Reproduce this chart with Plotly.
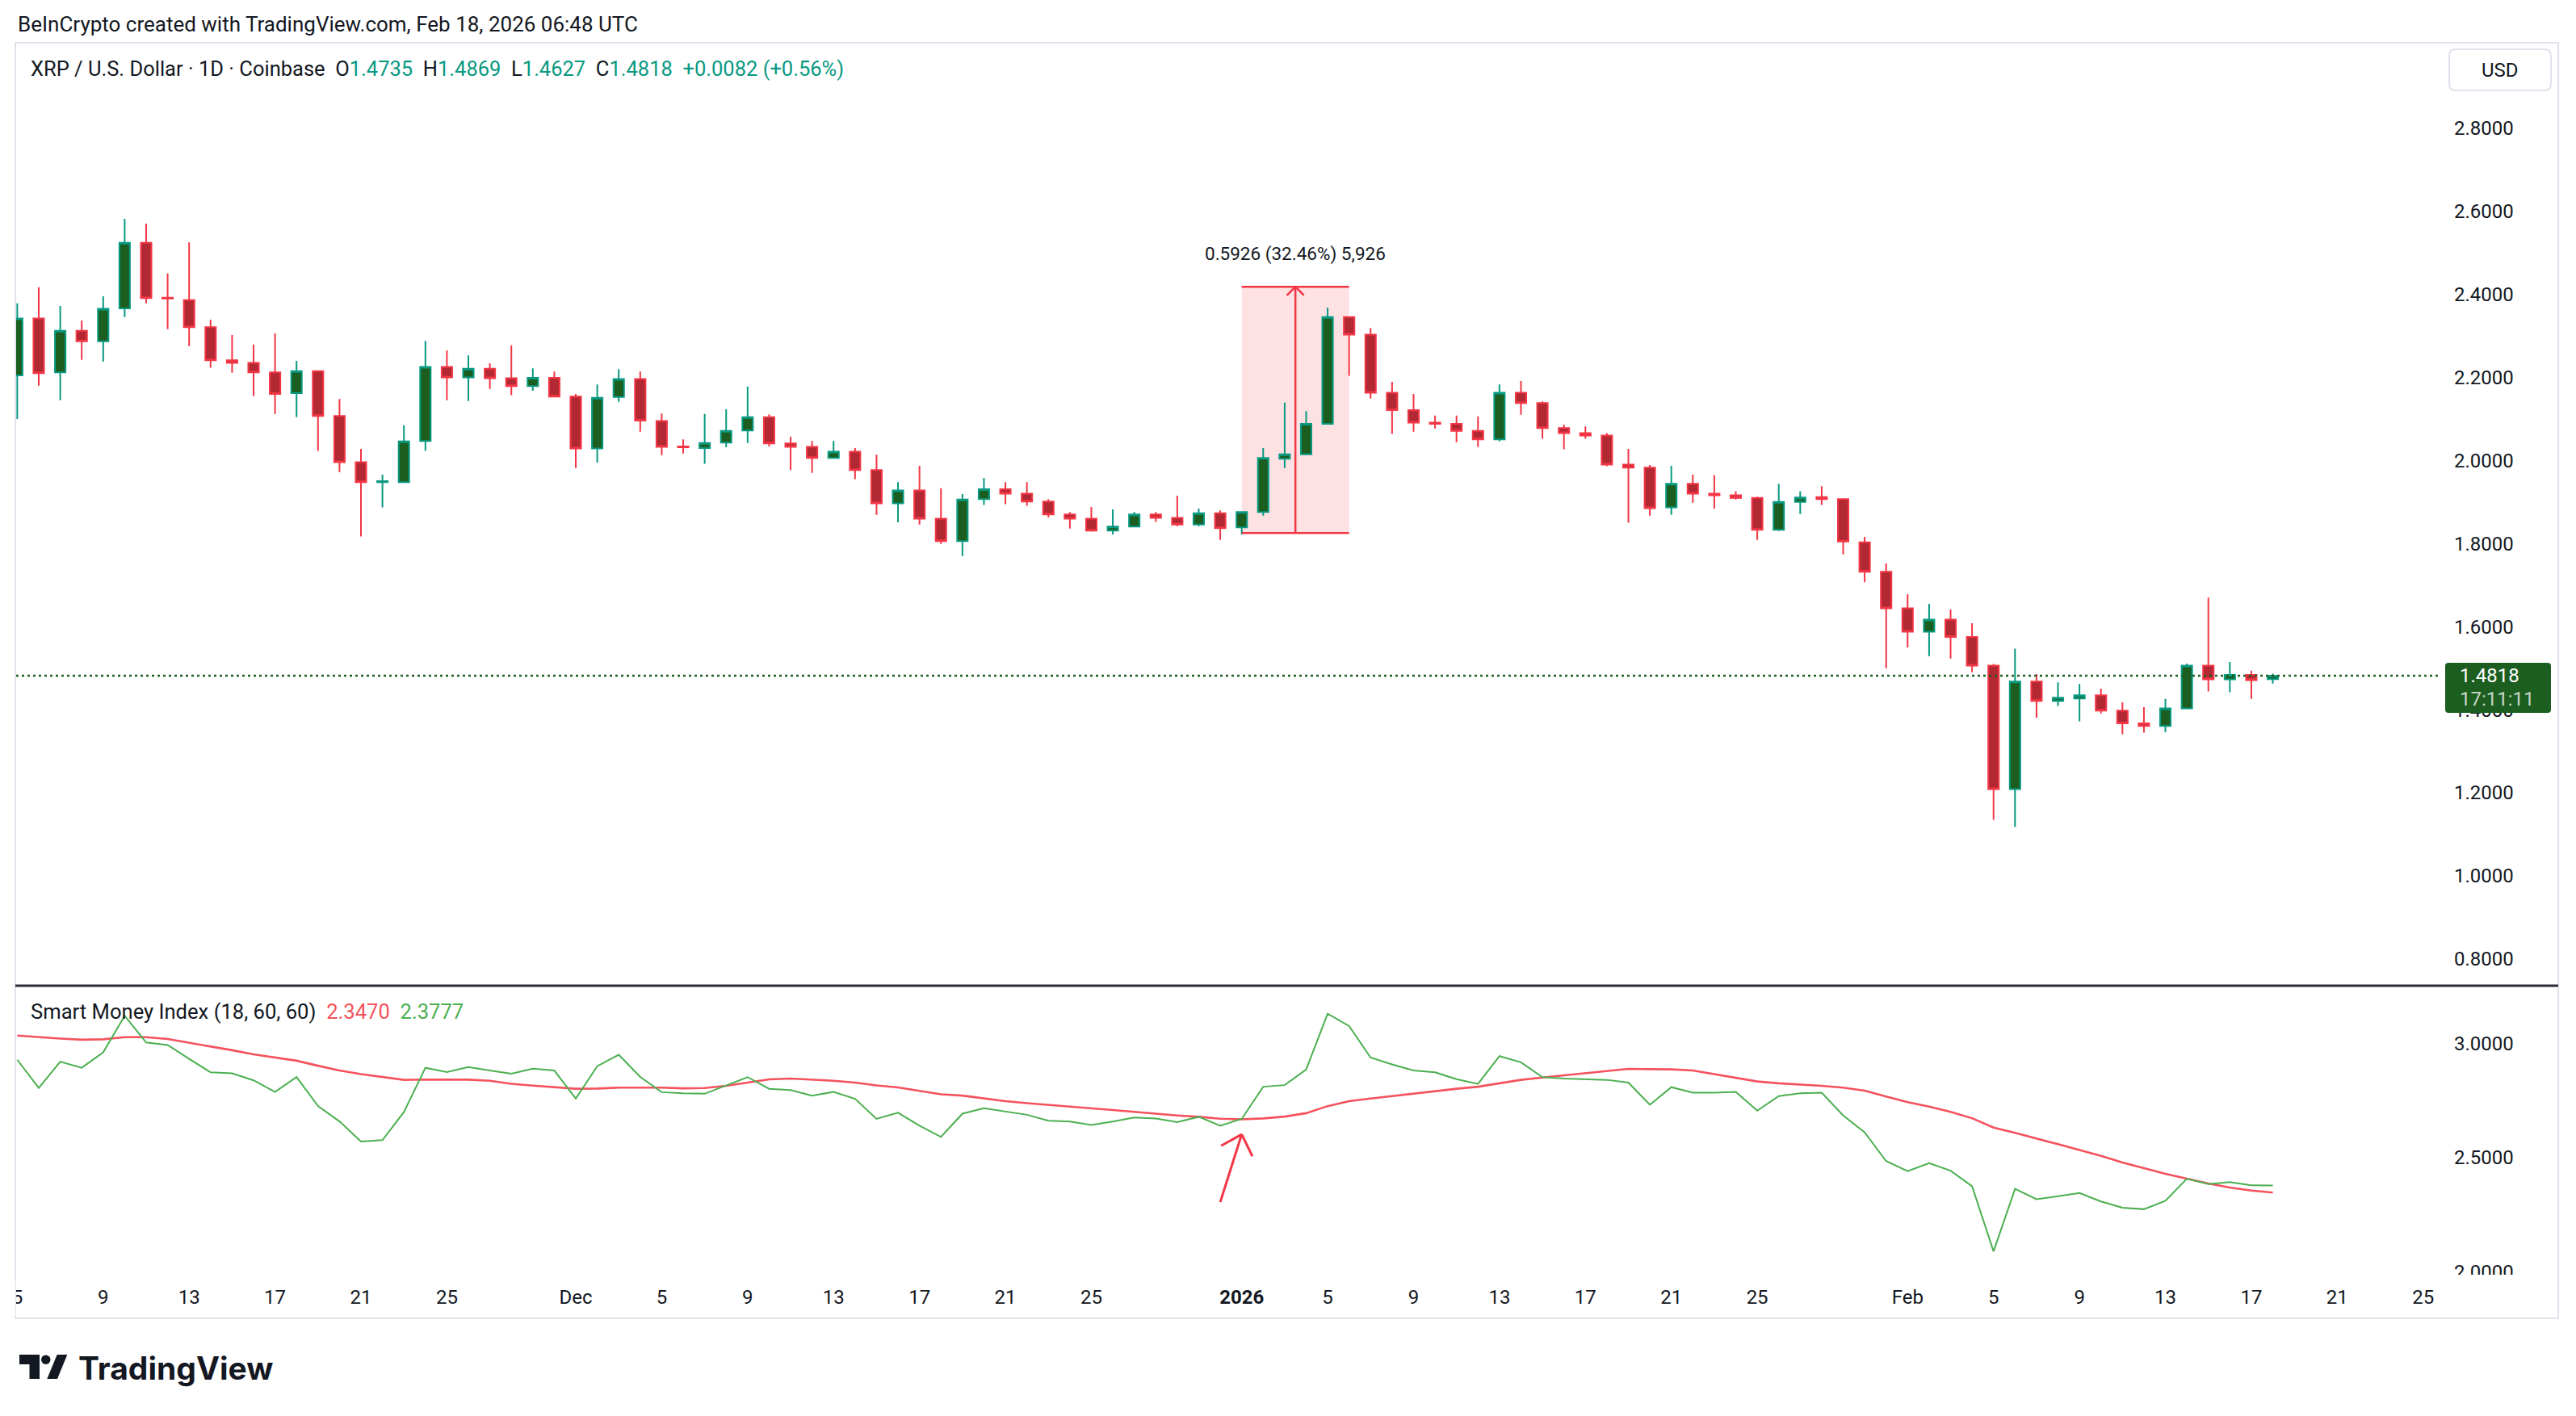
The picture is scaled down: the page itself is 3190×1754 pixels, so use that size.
import plotly.graph_objects as go
import pandas as pd

# ---------------- data ----------------
start_date = "2025-11-05"

opens = [2.205, 2.342, 2.212, 2.312, 2.287, 2.366, 2.524, 2.392, 2.386, 2.321,
         2.241, 2.235, 2.212, 2.162, 2.215, 2.107, 1.996, 1.948, 1.948, 2.047,
         2.225, 2.200, 2.221, 2.198, 2.179, 2.199, 2.154, 2.029, 2.153, 2.196,
         2.095, 2.034, 2.030, 2.043, 2.072, 2.104, 2.041, 2.033, 2.006, 2.021,
         1.977, 1.897, 1.928, 1.860, 1.806, 1.907, 1.931, 1.920, 1.901, 1.870,
         1.860, 1.831, 1.841, 1.870, 1.862, 1.846, 1.873, 1.839, 1.876, 2.004,
         2.015, 2.088, 2.345, 2.303, 2.163, 2.121, 2.091, 2.088, 2.071, 2.051,
         2.163, 2.138, 2.078, 2.066, 2.060, 1.990, 1.983, 1.887, 1.944, 1.920,
         1.916, 1.910, 1.833, 1.900, 1.912, 1.907, 1.803, 1.732, 1.644, 1.588,
         1.617, 1.575, 1.506, 1.209, 1.468, 1.421, 1.427, 1.435, 1.398, 1.367,
         1.361, 1.403, 1.506, 1.473, 1.484, 1.4735]
highs = [2.378, 2.417, 2.372, 2.337, 2.395, 2.582, 2.570, 2.450, 2.525, 2.339,
         2.302, 2.279, 2.306, 2.240, 2.217, 2.148, 2.028, 1.966, 2.085, 2.288,
         2.265, 2.253, 2.234, 2.277, 2.222, 2.214, 2.160, 2.183, 2.220, 2.214,
         2.113, 2.051, 2.112, 2.123, 2.178, 2.111, 2.057, 2.047, 2.047, 2.030,
         2.014, 1.948, 1.987, 1.933, 1.919, 1.958, 1.948, 1.948, 1.907, 1.876,
         1.888, 1.882, 1.876, 1.876, 1.915, 1.884, 1.880, 1.878, 2.030, 2.139,
         2.119, 2.368, 2.347, 2.319, 2.189, 2.160, 2.108, 2.108, 2.106, 2.183,
         2.191, 2.142, 2.086, 2.082, 2.066, 2.028, 1.989, 1.987, 1.966, 1.965,
         1.926, 1.913, 1.944, 1.926, 1.938, 1.908, 1.816, 1.752, 1.678, 1.655,
         1.641, 1.608, 1.510, 1.547, 1.486, 1.466, 1.462, 1.451, 1.418, 1.406,
         1.426, 1.511, 1.670, 1.515, 1.494, 1.4869]
lows = [2.100, 2.180, 2.145, 2.242, 2.238, 2.345, 2.378, 2.316, 2.275, 2.223,
        2.211, 2.155, 2.112, 2.104, 2.023, 1.972, 1.817, 1.887, 1.946, 2.023,
        2.145, 2.143, 2.172, 2.157, 2.168, 2.153, 1.982, 1.995, 2.141, 2.069,
        2.013, 2.017, 1.992, 2.032, 2.042, 2.034, 1.977, 1.970, 2.006, 1.955,
        1.869, 1.851, 1.846, 1.799, 1.770, 1.893, 1.895, 1.891, 1.863, 1.836,
        1.829, 1.822, 1.841, 1.852, 1.842, 1.842, 1.809, 1.822, 1.867, 1.982,
        2.014, 2.087, 2.204, 2.149, 2.064, 2.069, 2.077, 2.044, 2.033, 2.046,
        2.110, 2.052, 2.027, 2.052, 1.986, 1.850, 1.867, 1.869, 1.898, 1.884,
        1.906, 1.809, 1.830, 1.871, 1.893, 1.774, 1.707, 1.500, 1.550, 1.529,
        1.523, 1.490, 1.135, 1.118, 1.381, 1.409, 1.372, 1.391, 1.341, 1.345,
        1.346, 1.403, 1.444, 1.442, 1.426, 1.4627]
closes = [2.342, 2.210, 2.312, 2.287, 2.365, 2.524, 2.391, 2.390, 2.321, 2.241,
          2.235, 2.212, 2.160, 2.215, 2.107, 1.996, 1.948, 1.950, 2.046, 2.225,
          2.200, 2.221, 2.198, 2.179, 2.199, 2.154, 2.029, 2.151, 2.196, 2.096,
          2.033, 2.032, 2.042, 2.071, 2.104, 2.041, 2.033, 2.006, 2.021, 1.977,
          1.897, 1.928, 1.860, 1.806, 1.906, 1.931, 1.920, 1.901, 1.870, 1.860,
          1.831, 1.841, 1.870, 1.862, 1.846, 1.873, 1.837, 1.876, 2.006, 2.015,
          2.088, 2.345, 2.303, 2.163, 2.121, 2.091, 2.088, 2.071, 2.051, 2.163,
          2.138, 2.078, 2.066, 2.060, 1.990, 1.983, 1.885, 1.944, 1.920, 1.916,
          1.910, 1.833, 1.900, 1.911, 1.907, 1.805, 1.732, 1.644, 1.588, 1.617,
          1.575, 1.506, 1.209, 1.468, 1.421, 1.429, 1.435, 1.398, 1.367, 1.361,
          1.403, 1.506, 1.473, 1.484, 1.471, 1.4818]

# Smart Money Index (green) and its signal (red)
smi_index = [2.929, 2.806, 2.921, 2.894, 2.962, 3.122, 3.005, 2.994, 2.933, 2.874,
             2.870, 2.839, 2.788, 2.853, 2.726, 2.659, 2.571, 2.577, 2.700, 2.894,
             2.875, 2.897, 2.882, 2.868, 2.890, 2.882, 2.759, 2.901, 2.951, 2.854,
             2.787, 2.782, 2.780, 2.817, 2.853, 2.802, 2.796, 2.772, 2.788, 2.758,
             2.670, 2.697, 2.640, 2.591, 2.693, 2.717, 2.703, 2.688, 2.662, 2.658,
             2.643, 2.658, 2.676, 2.672, 2.656, 2.679, 2.640, 2.670, 2.811, 2.818,
             2.886, 3.131, 3.077, 2.939, 2.909, 2.882, 2.874, 2.844, 2.823, 2.945,
             2.918, 2.853, 2.847, 2.844, 2.841, 2.829, 2.732, 2.809, 2.785, 2.785,
             2.788, 2.706, 2.770, 2.782, 2.785, 2.685, 2.611, 2.485, 2.441, 2.476,
             2.443, 2.375, 2.089, 2.363, 2.318, 2.331, 2.345, 2.308, 2.281, 2.274,
             2.311, 2.408, 2.384, 2.393, 2.379, 2.3777]
smi_signal = [3.035, 3.028, 3.022, 3.017, 3.019, 3.028, 3.028, 3.020, 3.004, 2.987,
              2.971, 2.953, 2.939, 2.925, 2.903, 2.882, 2.866, 2.854, 2.841, 2.842,
              2.842, 2.842, 2.837, 2.824, 2.816, 2.810, 2.802, 2.803, 2.807, 2.807,
              2.807, 2.804, 2.805, 2.815, 2.830, 2.843, 2.847, 2.842, 2.837, 2.829,
              2.817, 2.808, 2.794, 2.778, 2.772, 2.759, 2.748, 2.739, 2.732, 2.725,
              2.717, 2.709, 2.701, 2.692, 2.685, 2.679, 2.671, 2.668, 2.672, 2.680,
              2.695, 2.726, 2.748, 2.759, 2.770, 2.781, 2.791, 2.802, 2.811, 2.827,
              2.841, 2.851, 2.861, 2.870, 2.880, 2.889, 2.888, 2.887, 2.882, 2.866,
              2.848, 2.834, 2.826, 2.821, 2.815, 2.807, 2.794, 2.768, 2.743, 2.724,
              2.701, 2.673, 2.632, 2.609, 2.585, 2.559, 2.534, 2.508, 2.479, 2.454,
              2.429, 2.408, 2.387, 2.369, 2.356, 2.3470]

tick_dates = ["2025-11-05", "2025-11-09", "2025-11-13", "2025-11-17", "2025-11-21", "2025-11-25",
              "2025-12-01", "2025-12-05", "2025-12-09", "2025-12-13", "2025-12-17", "2025-12-21", "2025-12-25",
              "2026-01-01", "2026-01-05", "2026-01-09", "2026-01-13", "2026-01-17", "2026-01-21", "2026-01-25",
              "2026-02-01", "2026-02-05", "2026-02-09", "2026-02-13", "2026-02-17", "2026-02-21", "2026-02-25"]
tick_labels = ["5", "9", "13", "17", "21", "25",
               "Dec", "5", "9", "13", "17", "21", "25",
               "<b>2026</b>", "5", "9", "13", "17", "21", "25",
               "Feb", "5", "9", "13", "17", "21", "25"]

price_ticks = [0.8, 1.0, 1.2, 1.4, 1.6, 1.8, 2.0, 2.2, 2.4, 2.6, 2.8]
smi_ticks = [2.0, 2.5, 3.0]

# measurement tool (Jan 1 -> Jan 6)
measure_x0, measure_x1, measure_mid = "2026-01-01", "2026-01-06", "2026-01-03 12:00"
measure_low, measure_high = 1.8256, 2.4182
measure_label = "0.5926 (32.46%) 5,926"

# hand-drawn arrow on the indicator pane
arrow_tail = ("2025-12-31 00:00", 2.305)
arrow_tip = ("2026-01-01 00:00", 2.602)
arrow_left = ("2025-12-31 01:00", 2.552)
arrow_right = ("2026-01-01 12:00", 2.506)

last_price = 1.4818

# ---------------- layout geometry (reference pixel coordinates) ----------------
PAGE_W, PAGE_H = 3190, 1754
BODY = 8                      # default html body margin
W, H = PAGE_W - 2 * BODY, PAGE_H - 2 * BODY


def px(x):
    return (x - BODY) / W


def py(y):
    return 1 - (y - BODY) / H


X_LEFT, X_RIGHT = 20, 3022
MAIN_TOP, MAIN_BOT = 54, 1220
IND_TOP, IND_BOT = 1223, 1578

FONT = "Roboto, Inter, sans-serif"
TXT = "#131722"
UP_LINE, UP_FILL = "#089981", "#1B5E20"
DN_LINE, DN_FILL = "#F23645", "#B22833"
RED_SMI, GREEN_SMI = "#F4525C", "#4CAF50"

dates = pd.date_range(start_date, periods=len(closes), freq="D")

fig = go.Figure()
fig.add_trace(go.Candlestick(
    x=dates, open=opens, high=highs, low=lows, close=closes,
    increasing=dict(line=dict(color=UP_LINE, width=2), fillcolor=UP_FILL),
    decreasing=dict(line=dict(color=DN_LINE, width=2), fillcolor=DN_FILL),
    whiskerwidth=0, xaxis="x", yaxis="y", showlegend=False, hoverinfo="skip",
))
fig.add_trace(go.Scatter(x=dates, y=smi_signal, mode="lines", line=dict(color=RED_SMI, width=2.6),
                         xaxis="x", yaxis="y2", showlegend=False, hoverinfo="skip"))
fig.add_trace(go.Scatter(x=dates, y=smi_index, mode="lines", line=dict(color=GREEN_SMI, width=2),
                         xaxis="x", yaxis="y2", showlegend=False, hoverinfo="skip"))

# axis ranges from pixel calibration of the reference
p_top = 2.8 + (158.7 - MAIN_TOP) / 514.6
p_bot = 2.8 - (MAIN_BOT - 158.7) / 514.6
s_top = 3.0 + (1292.7 - IND_TOP) / 282.6
s_bot = 3.0 - (IND_BOT - 1292.7) / 282.6


def rounded(x0, y0, x1, y1, r):
    rx, ry = r / W, r / H
    X0, X1 = px(x0), px(x1)
    Y0, Y1 = py(y0), py(y1)
    return (f"M {X0+rx} {Y0} L {X1-rx} {Y0} Q {X1} {Y0} {X1} {Y0-ry} L {X1} {Y1+ry} "
            f"Q {X1} {Y1} {X1-rx} {Y1} L {X0+rx} {Y1} Q {X0} {Y1} {X0} {Y1+ry} "
            f"L {X0} {Y0-ry} Q {X0} {Y0} {X0+rx} {Y0} Z")


shapes = []
# measurement box
shapes.append(dict(type="rect", xref="x", yref="y", x0=measure_x0, x1=measure_x1,
                   y0=measure_low, y1=measure_high, fillcolor="rgba(242,54,69,0.15)",
                   line=dict(width=0), layer="below"))
for yv in (measure_low, measure_high):
    shapes.append(dict(type="line", xref="x", yref="y", x0=measure_x0, x1=measure_x1,
                       y0=yv, y1=yv, line=dict(color=DN_LINE, width=2.5), layer="above"))
shapes.append(dict(type="line", xref="x", yref="y", x0=measure_mid, x1=measure_mid,
                   y0=measure_low, y1=measure_high, line=dict(color=DN_LINE, width=2.5), layer="above"))
shapes.append(dict(type="line", xref="x", yref="y", x0="2026-01-03 02:30", x1=measure_mid,
                   y0=measure_high - 0.021, y1=measure_high, line=dict(color=DN_LINE, width=2.5)))
shapes.append(dict(type="line", xref="x", yref="y", x0="2026-01-03 21:30", x1=measure_mid,
                   y0=measure_high - 0.021, y1=measure_high, line=dict(color=DN_LINE, width=2.5)))
# last price dotted line
shapes.append(dict(type="line", xref="paper", yref="y", x0=px(X_LEFT), x1=px(X_RIGHT),
                   y0=last_price, y1=last_price, line=dict(color=UP_FILL, width=2.5, dash="3px,4px")))
# indicator arrow
for a, b in ((arrow_tail, arrow_tip), (arrow_left, arrow_tip), (arrow_right, arrow_tip)):
    shapes.append(dict(type="line", xref="x", yref="y2", x0=a[0], y0=a[1], x1=b[0], y1=b[1],
                       line=dict(color=DN_LINE, width=3)))
# frame, separator, clipping covers
shapes.append(dict(type="rect", xref="paper", yref="paper", x0=px(19), x1=px(3168), y0=py(1633), y1=py(53),
                   line=dict(color="#E0E3EB", width=2)))
shapes.append(dict(type="rect", xref="paper", yref="paper", x0=0, x1=px(19), y0=py(1630), y1=py(1585),
                   fillcolor="white", line=dict(width=0)))
shapes.append(dict(type="rect", xref="paper", yref="paper", x0=px(3024), x1=px(3166), y0=py(1600), y1=py(IND_BOT + 1),
                   fillcolor="white", line=dict(width=0)))
shapes.append(dict(type="line", xref="paper", yref="paper", x0=px(19), x1=px(3168), y0=py(1221), y1=py(1221),
                   line=dict(color="#2A2E39", width=3)))
# USD box and last price box
shapes.append(dict(type="path", xref="paper", yref="paper", path=rounded(3033, 61, 3159, 112, 8),
                   fillcolor="white", line=dict(color="#E0E3EB", width=2)))
shapes.append(dict(type="path", xref="paper", yref="paper", path=rounded(3028, 821, 3159, 883, 4),
                   fillcolor=UP_FILL, line=dict(width=0)))
# TradingView logo mark
shapes.append(dict(type="rect", xref="paper", yref="paper", x0=px(24), x1=px(49), y0=py(1690), y1=py(1678),
                   fillcolor=TXT, line=dict(width=0)))
shapes.append(dict(type="rect", xref="paper", yref="paper", x0=px(36.5), x1=px(49), y0=py(1708), y1=py(1678),
                   fillcolor=TXT, line=dict(width=0)))
shapes.append(dict(type="circle", xref="paper", yref="paper", x0=px(51), x1=px(62.5), y0=py(1690), y1=py(1678.5),
                   fillcolor=TXT, line=dict(width=0)))
shapes.append(dict(type="path", xref="paper", yref="paper",
                   path=f"M {px(58.3)} {py(1708)} L {px(70.7)} {py(1678)} L {px(83.3)} {py(1678)} L {px(71)} {py(1708)} Z",
                   fillcolor=TXT, line=dict(width=0)))


def col(t, c):
    return f"<span style='color:{c}'>{t}</span>"


gap = "\u00a0\u00a0"
legend_txt = ("XRP / U.S. Dollar · 1D · Coinbase" + gap + "O" + col("1.4735", UP_LINE) + gap +
              "H" + col("1.4869", UP_LINE) + gap + "L" + col("1.4627", UP_LINE) + gap +
              "C" + col("1.4818", UP_LINE) + gap + col("+0.0082 (+0.56%)", UP_LINE))
smi_txt = ("Smart Money Index (18, 60, 60)" + gap + col(f"{smi_signal[-1]:.4f}", RED_SMI) + gap +
           col(f"{smi_index[-1]:.4f}", GREEN_SMI))

annotations = [
    dict(xref="paper", yref="paper", x=px(20), y=py(30), xanchor="left", yanchor="middle",
         text="BeInCrypto created with TradingView.com, Feb 18, 2026 06:48 UTC",
         showarrow=False, font=dict(family=FONT, size=26, color=TXT)),
    dict(xref="paper", yref="paper", x=px(36), y=py(85), xanchor="left", yanchor="middle",
         text=legend_txt, showarrow=False, font=dict(family=FONT, size=25.5, color=TXT)),
    dict(xref="paper", yref="paper", x=px(36), y=py(1253), xanchor="left", yanchor="middle",
         text=smi_txt, showarrow=False, font=dict(family=FONT, size=25.6, color=TXT)),
    dict(xref="x", yref="paper", x=measure_mid, y=py(315), xanchor="center", yanchor="middle",
         text=measure_label, showarrow=False, font=dict(family=FONT, size=22.5, color=TXT)),
    dict(xref="paper", yref="paper", x=px(3096), y=py(86.5), xanchor="center", yanchor="middle",
         text="USD", showarrow=False, font=dict(family=FONT, size=24, color=TXT)),
    dict(xref="paper", yref="paper", x=px(3044), y=py(837), xanchor="left", yanchor="middle",
         text=f"{last_price:.4f}", showarrow=False, font=dict(family=FONT, size=24, color="white")),
    dict(xref="paper", yref="paper", x=px(3044), y=py(866), xanchor="left", yanchor="middle",
         text="17:11:11", showarrow=False, font=dict(family=FONT, size=24, color="#C5D6C6")),
    dict(xref="paper", yref="paper", x=px(95), y=py(1694), xanchor="left", yanchor="middle",
         text="<b>TradingView</b>", showarrow=False, font=dict(family="Inter, sans-serif", size=39, color=TXT)),
]

fig.update_layout(
    width=W, height=H, margin=dict(l=0, r=0, t=0, b=0),
    paper_bgcolor="white", plot_bgcolor="rgba(0,0,0,0)",
    showlegend=False, hovermode=False, boxgap=0.3,
    xaxis=dict(domain=[px(X_LEFT), px(X_RIGHT)], anchor="y2", type="date",
               range=["2025-11-04 22:45", "2026-02-25 19:10"],
               tickvals=tick_dates, ticktext=tick_labels, ticks="", showgrid=False,
               zeroline=False, showline=False, rangeslider=dict(visible=False),
               tickfont=dict(family=FONT, size=24, color=TXT), ticklabelstandoff=12,
               automargin=False),
    yaxis=dict(domain=[py(MAIN_BOT), py(MAIN_TOP)], anchor="x", side="right",
               range=[p_bot, p_top], tickvals=price_ticks, tickformat=".4f", ticks="",
               showgrid=False, zeroline=False, showline=False,
               tickfont=dict(family=FONT, size=24, color=TXT), ticklabelstandoff=16,
               automargin=False),
    yaxis2=dict(domain=[py(IND_BOT), py(IND_TOP)], anchor="x", side="right",
                range=[s_bot, s_top], tickvals=smi_ticks, tickformat=".4f", ticks="",
                showgrid=False, zeroline=False, showline=False,
                tickfont=dict(family=FONT, size=24, color=TXT), ticklabelstandoff=16,
                automargin=False),
    shapes=shapes, annotations=annotations,
)

fig.write_html("out.html")
